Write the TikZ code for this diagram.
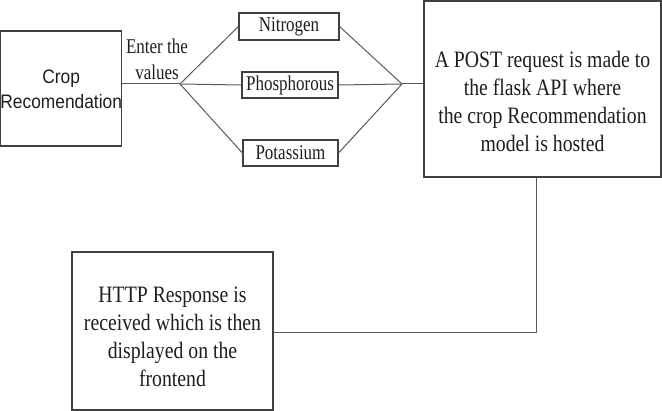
\documentclass[tikz,border=0pt]{standalone}
\usepackage{fontspec}
\setmainfont{Liberation Serif}[FakeStretch=0.84]
\newfontfamily\smallf{Liberation Serif}[FakeStretch=0.81]
\newfontfamily\arialf{Liberation Sans}[FakeStretch=0.89]
\definecolor{boxline}{HTML}{404040}
\definecolor{conline}{HTML}{5A5A5A}
\definecolor{txt}{HTML}{1E1E1E}
\tikzset{
  boxnode/.style={draw=boxline, line width=1.1pt, rectangle, inner sep=0pt, text=txt},
  smallbox/.style={boxnode, font=\smallf\fontsize{21}{26}\selectfont},
  bigtext/.style={inner sep=0pt, align=center, text=txt, font=\fontsize{23.5}{28}\selectfont},
  smalltext/.style={inner sep=0pt, align=center, text=txt, font=\smallf\fontsize{21}{26}\selectfont},
  conn/.style={draw=conline, line width=1pt}
}
\begin{document}
\begin{tikzpicture}[x=1pt,y=-1pt]
\useasboundingbox (0,0) rectangle (662,411);
% boxes
\node[boxnode, minimum width=121pt, minimum height=115pt] (crop) at (61.2,88.5) {};
\node[inner sep=0pt, align=center, text=txt, font=\arialf\fontsize{19.5}{25}\selectfont] (croptxt) at (61.2,89) {Crop\\Recomendation};
\node[smallbox, minimum width=100pt, minimum height=27pt] (nit) at (289,26.5) {Nitrogen};
\node[smallbox, minimum width=96pt, minimum height=26pt] (pho) at (290,85) {Phosphorous};
\node[smallbox, minimum width=95pt, minimum height=26pt] (pot) at (290.5,153) {Potassium};
\node[boxnode, minimum width=237pt, minimum height=176pt] (post) at (542.5,89) {};
\node[bigtext] (posttxt) at (542.5,101) {A POST request is made to\\the flask API where\\the crop Recommendation\\model is hosted};
\node[boxnode, minimum width=201pt, minimum height=158pt] (http) at (172.5,331) {};
\node[bigtext] (httptxt) at (172.5,337) {HTTP Response is\\received which is then\\displayed on the\\frontend};
\node[smalltext] (enter) at (157,59.5) {Enter the\\values};
% junctions
\coordinate (jl) at (180,84);
\coordinate (jr) at (402,84);
\coordinate (turn) at (536,333);
% connectors
\draw[conn] (crop.east |- jl) -- (jl);
\draw[conn] (jl) -- (nit.west);
\draw[conn] (jl) -- (pho.west);
\draw[conn] (jl) -- (pot.west);
\draw[conn] (nit.east) -- (jr);
\draw[conn] (pho.east) -- (jr);
\draw[conn] (pot.east) -- (jr);
\draw[conn] (jr) -- (post.west |- jr);
\draw[conn] (post.south -| turn) -- (turn) -- (http.east |- turn);
\end{tikzpicture}
\end{document}
